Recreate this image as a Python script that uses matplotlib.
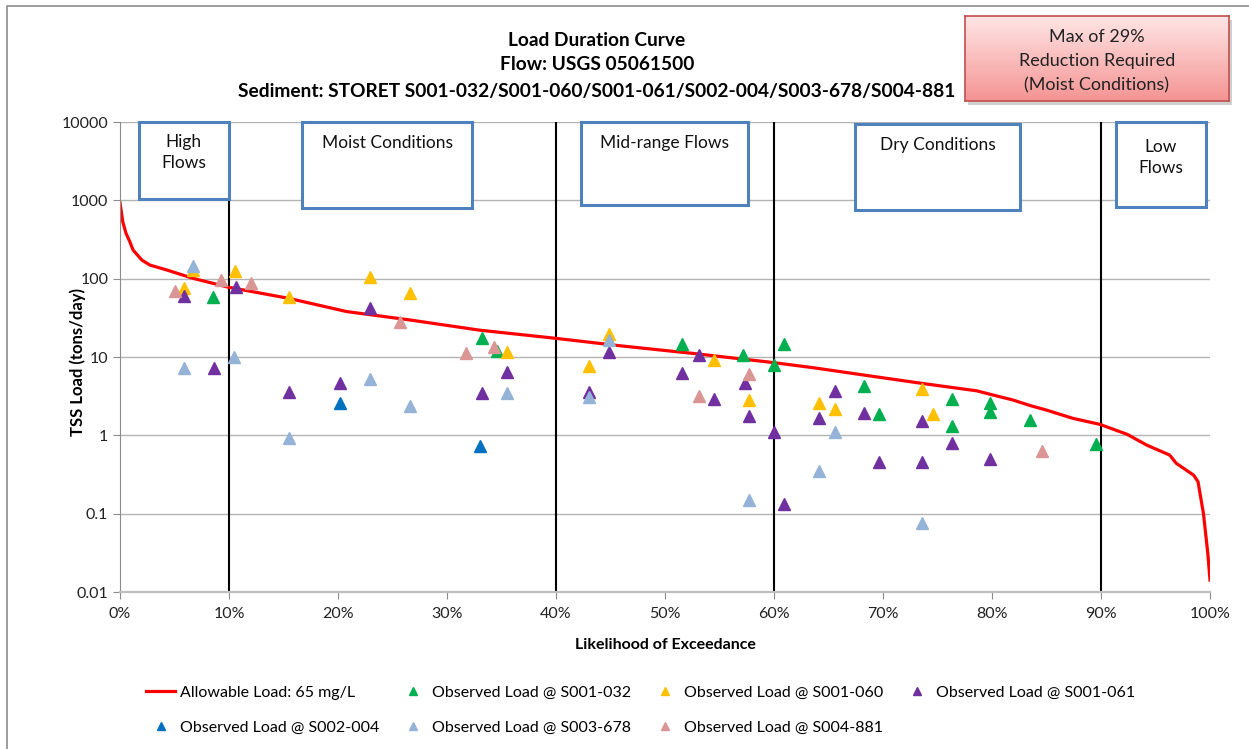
import matplotlib
matplotlib.use("Agg")

import numpy as np
import matplotlib.pyplot as plt
from matplotlib.patches import Rectangle
from matplotlib.lines import Line2D
from matplotlib.ticker import FixedLocator, FuncFormatter, NullLocator
import matplotlib.transforms as mtransforms

plt.rcParams['font.family'] = ['Lato', 'DejaVu Sans']

# allowable load curve (exceedance in %, load in tons/day)
curve_x = [0, 0.25, 0.55, 0.9, 1.2, 2.0, 2.75, 4.3, 6.7, 9.9, 15.5, 20.8, 26.6, 33.0,
           40.0, 45.9, 52.6, 59.9, 63.6, 69.7, 73.6, 78.6, 80.1, 81.9, 83.5, 85.0, 87.4,
           89.9, 92.4, 94.2, 96.3, 96.9, 98.5, 98.9, 99.4, 99.8, 100]
curve_y = [930, 535, 380, 296, 232, 173, 149, 129, 101, 78, 56, 38, 29.7, 22,
           17.3, 13.9, 11.1, 8.5, 7.3, 5.5, 4.6, 3.7, 3.27, 2.83, 2.4, 2.1, 1.65,
           1.38, 1.03, 0.75, 0.56, 0.44, 0.31, 0.256, 0.10, 0.031, 0.0142]

# observed loads per station
s032_x = [8.5, 33.2, 34.6, 51.6, 57.2, 60.0, 60.9, 68.3, 69.6, 76.3, 76.3, 79.8, 79.8, 83.5, 89.5]
s032_y = [58, 17.5, 11.9, 14.5, 10.6, 7.8, 14.5, 4.27, 1.86, 2.91, 1.32, 2.61, 1.99, 1.57, 0.77]

s060_x = [5.9, 6.7, 10.55, 15.5, 22.9, 26.6, 35.5, 43.0, 44.9, 54.5, 57.7, 64.1, 65.6, 73.6, 74.6]
s060_y = [75, 129, 125, 59, 106, 65, 11.5, 7.7, 19.5, 9.2, 2.8, 2.61, 2.17, 3.87, 1.86]

s061_x = [5.9, 8.6, 10.6, 15.5, 20.2, 22.9, 33.2, 35.5, 43.0, 44.9, 51.6, 53.1, 54.5,
          57.3, 57.7, 60.0, 60.9, 64.1, 65.6, 68.3, 69.6, 73.6, 73.6, 76.3, 79.8]
s061_y = [60, 7.2, 79, 3.6, 4.7, 42, 3.44, 6.4, 3.6, 11.7, 6.2, 10.6, 2.88,
          4.6, 1.78, 1.11, 0.133, 1.65, 3.72, 1.95, 0.46, 1.54, 0.46, 0.81, 0.50]

s004_x = [20.2, 33.0]
s004_y = [2.6, 0.74]

s678_x = [5.9, 6.7, 10.5, 15.5, 22.9, 26.6, 35.5, 43.0, 44.9, 57.7, 64.1, 65.6, 73.6]
s678_y = [7.2, 145, 9.9, 0.92, 5.2, 2.4, 3.5, 3.1, 16.5, 0.149, 0.354, 1.09, 0.077]

s881_x = [5.0, 9.3, 12.0, 25.7, 31.7, 34.3, 53.1, 57.7, 84.6]
s881_y = [70, 95, 89, 28, 11.1, 13.5, 3.2, 6.0, 0.63]

zone_breaks = [10, 40, 60, 90]
y_ticks = [0.01, 0.1, 1, 10, 100, 1000, 10000]
x_ticks = list(range(0, 101, 10))

fig = plt.figure(figsize=(12.49, 7.49), dpi=100)
ax = fig.add_axes([120/1249, 157/749, 1090/1249, 470/749])

grey = '#b3b3b3'
ax.set_yscale('log')
ax.set_xlim(0, 100)
ax.set_ylim(0.01, 10000)
ax.yaxis.set_major_locator(FixedLocator(y_ticks))
ax.yaxis.set_minor_locator(NullLocator())
ax.yaxis.set_major_formatter(FuncFormatter(lambda v, p: ('%g' % v)))
ax.xaxis.set_major_locator(FixedLocator(x_ticks))
ax.xaxis.set_major_formatter(FuncFormatter(lambda v, p: '%d%%' % v))
ax.grid(axis='y', color=grey, lw=1.0)
ax.set_axisbelow(True)
for s in ['top', 'right']:
    ax.spines[s].set_visible(False)
ax.spines['left'].set_color('#8c8c8c')
ax.spines['bottom'].set_color('#bfbfbf')
ax.spines['bottom'].set_linewidth(1.6)
ax.tick_params(axis='both', colors='#8c8c8c', labelcolor='#222222', labelsize=11.5, length=5)
ax.tick_params(axis='x', pad=6)

for b in zone_breaks:
    ax.axvline(b, color='black', lw=1.5, zorder=1)

line, = ax.plot(curve_x, curve_y, color='#ff0000', lw=2.3, zorder=2,
                label='Allowable Load: 65 mg/L')

series = [
    (s032_x, s032_y, '#00b050', 'Observed Load @ S001-032'),
    (s060_x, s060_y, '#ffc000', 'Observed Load @ S001-060'),
    (s061_x, s061_y, '#7030a0', 'Observed Load @ S001-061'),
    (s004_x, s004_y, '#0070c0', 'Observed Load @ S002-004'),
    (s678_x, s678_y, '#95b3d7', 'Observed Load @ S003-678'),
    (s881_x, s881_y, '#d99694', 'Observed Load @ S004-881'),
]
handles = {'Allowable Load: 65 mg/L': line}
for xs, ys, c, lab in series:
    h, = ax.plot(xs, ys, ls='none', marker='^', ms=8.5, color=c, mec=c, zorder=3, label=lab)
    handles[lab] = h

ax.set_xlabel('Likelihood of Exceedance', fontsize=11.5, fontweight='bold', labelpad=12)
ax.set_ylabel('TSS Load (tons/day)', fontsize=12, fontweight='bold')
ax.yaxis.set_label_coords(-34/1090, 0.49)

# flow-zone boxes (x in %, y in axes fraction)
trans = mtransforms.blended_transform_factory(ax.transData, ax.transAxes)
zones = [
    ('High\nFlows', 1.7, 10.0, 0.836, 1.0, 0.935),
    ('Moist Conditions', 16.7, 32.3, 0.817, 1.0, 0.955),
    ('Mid-range Flows', 42.3, 57.6, 0.823, 1.0, 0.955),
    ('Dry Conditions', 67.4, 82.6, 0.813, 0.996, 0.951),
    ('Low\nFlows', 91.4, 99.6, 0.819, 1.0, 0.924),
]
for txt, x0, x1, y0, y1, ty in zones:
    ax.add_patch(Rectangle((x0, y0), x1 - x0, y1 - y0, transform=trans, facecolor='white',
                           edgecolor='#4f81bd', lw=2.2, zorder=4, clip_on=False))
    ax.text((x0 + x1) / 2, ty, txt, transform=trans, ha='center', va='center',
            fontsize=12.5, color='#111111', zorder=5, linespacing=1.35)

# titles
title_lines = ['Load Duration Curve', 'Flow: USGS 05061500',
               'Sediment: STORET S001-032/S001-060/S001-061/S002-004/S003-678/S004-881']
for t, ypx in zip(title_lines, [40, 65, 92]):
    fig.text(597/1249, 1 - ypx/749, t, ha='center', va='center', fontsize=13.8,
             fontweight='bold')

# red note box with gradient and shadow
fig.patches.append(Rectangle((968/1249, 1 - 105/749), 264/1249, 85/749,
                             transform=fig.transFigure, facecolor='#cfcfcf', edgecolor='none',
                             zorder=-1))
nax = fig.add_axes([965/1249, 1 - 101/749, 264/1249, 85/749])
nax.set_zorder(5)
grad = np.linspace(0, 1, 100).reshape(-1, 1)
top = np.array([1.0, 0.90, 0.90])
bot = np.array([0.96, 0.58, 0.58])
img = top[None, None, :] * (1 - grad[:, :, None]) + bot[None, None, :] * grad[:, :, None]
nax.imshow(img, aspect='auto', extent=[0, 1, 0, 1])
nax.set_xticks([])
nax.set_yticks([])
for s in nax.spines.values():
    s.set_color('#c0504d')
    s.set_linewidth(1.2)
nax.text(0.5, 0.47, 'Max of 29%\nReduction Required\n(Moist Conditions)', ha='center',
         va='center', fontsize=13, color='#222222', linespacing=1.6, transform=nax.transAxes)

# outer chart border
fig.add_artist(Line2D([7/1249, 7/1249, 1.0], [0, 1 - 6/749, 1 - 6/749],
                      transform=fig.transFigure, color='#8c8c8c', lw=1.2))

# legend, column-major order so rows read like the original
order = ['Allowable Load: 65 mg/L', 'Observed Load @ S002-004',
         'Observed Load @ S001-032', 'Observed Load @ S003-678',
         'Observed Load @ S001-060', 'Observed Load @ S004-881',
         'Observed Load @ S001-061']
leg = fig.legend([handles[k] for k in order], order, ncol=4, loc='upper left',
                 bbox_to_anchor=(132/1249, 1 - 671/749), frameon=False, fontsize=11.5,
                 handlelength=1.8, handletextpad=0.3, columnspacing=1.2, labelspacing=1.3,
                 markerscale=0.65)

fig.savefig('out.png', dpi=100)
